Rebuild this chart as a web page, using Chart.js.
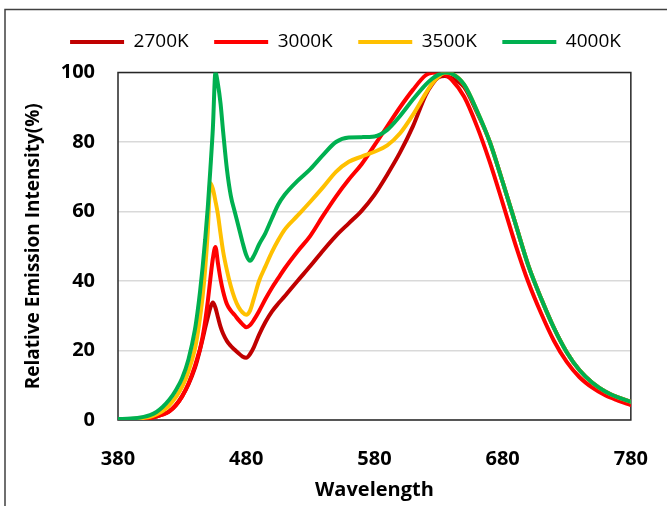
<!DOCTYPE html>
<html>
<head>
<meta charset="utf-8">
<script src="https://cdn.jsdelivr.net/npm/chart.js@4.4.0/dist/chart.umd.min.js"></script>
<style>
  html, body { margin: 0; padding: 0; background: #fff; }
  #wrap { width: 667px; height: 506px; }
</style>
</head>
<body>
<div id="wrap"><canvas id="spectrum" width="667" height="506"></canvas></div>
<script>
// wavelength grid (nm)
const wavelengths = [380, 390, 400, 405, 410, 415, 420, 425, 430, 435,
  440, 442, 444, 446, 448, 450, 452, 454, 456, 458,
  460, 462, 465, 468, 471, 474, 477, 480, 483, 486,
  490, 495, 500, 505, 510, 520, 530, 540, 550, 560,
  570, 580, 590, 600, 610, 620, 625, 630, 635, 640,
  650, 660, 670, 680, 690, 700, 710, 720, 730, 740,
  750, 760, 770, 780];

const seriesNames = ['2700K', '3000K', '3500K', '4000K'];
const seriesColors = ['#C00000', '#FF0000', '#FFC000', '#00B050'];

const cct2700 = [0.1, 0.2, 0.4, 0.6, 1.0, 1.6, 2.5, 4.2, 6.8, 10.3,
  15, 17.5, 20.3, 23.3, 26.5, 29.5, 32.3, 33.8, 32.3, 29.5,
  26.8, 24.8, 22.7, 21.3, 20.2, 19.2, 18.3, 17.9, 19, 21,
  24.5, 28.2, 31.2, 33.5, 35.6, 40, 44.3, 48.8, 53, 56.6,
  60.2, 64.8, 70.6, 77, 84.5, 93.5, 96.6, 98.6, 99, 98.5,
  95.8, 88.5, 80, 68.5, 56.5, 44.5, 35, 26.5, 19.5, 14.3,
  10.7, 8.2, 6.5, 5.2];

const cct3000 = [0.1, 0.2, 0.4, 0.6, 1.0, 1.6, 2.5, 4.2, 6.8, 10.5,
  15.5, 18, 20.5, 24, 28.5, 34, 40.5, 46.5, 49.8, 45,
  40.5, 37, 33.3, 31.5, 30.2, 28.8, 27.6, 26.7, 27.3, 28.8,
  31.3, 34.8, 38, 40.8, 43.6, 48.5, 53, 58.8, 64.3, 69.2,
  73.6, 79, 84.5, 90, 95, 99.2, 99.9, 100, 99.4, 98,
  93, 84.5, 74.2, 62.5, 50.5, 39.7, 30.7, 22.8, 16.7, 12.3,
  9.3, 7.1, 5.6, 4.3];

const cct3500 = [0.2, 0.3, 0.6, 0.9, 1.6, 2.6, 4.2, 6.5, 9.5, 14,
  20.5, 24.5, 29.5, 35.5, 43.5, 54, 68.2, 66.5, 63, 59,
  53.5, 48.5, 43, 38.5, 35, 32.5, 31, 30.3, 31.5, 35,
  40, 44.2, 48.3, 51.8, 54.8, 58.8, 62.8, 67, 71.4, 74.3,
  75.8, 77.2, 79, 82.5, 87.8, 94, 96.8, 98.8, 99.9, 99.7,
  96.5, 89, 80, 68.5, 56.5, 44.5, 35, 26.5, 19.5, 14.3,
  10.7, 8.2, 6.5, 5.2];

const cct4000 = [0.3, 0.4, 0.9, 1.4, 2.3, 3.8, 5.8, 8.5, 12, 17.5,
  26, 31, 37, 44, 52, 61, 72, 84, 100, 96.5,
  91, 83, 72, 64.5, 60, 55.7, 51.3, 47.5, 45.8, 47.3,
  50.5, 53.8, 58, 62, 64.8, 68.8, 72.2, 76.3, 80, 81.3,
  81.4, 81.6, 83.5, 87.5, 92.2, 96.5, 98.2, 99.4, 100, 99.7,
  96.5, 89, 80, 68.5, 56.5, 44.5, 35, 26.5, 19.5, 14.3,
  10.7, 8.2, 6.5, 5.2];

const seriesValues = [cct2700, cct3000, cct3500, cct4000];

const xTicks = { min: 380, max: 780, step: 100 };
const yTicks = { min: 0, max: 100, step: 20 };

const FONT = "'Open Sans', 'Noto Sans', sans-serif";

// outer frame of the figure + plot box
const framePlugin = {
  id: 'frame',
  beforeDraw(chart) {
    const ctx = chart.ctx;
    ctx.save();
    ctx.fillStyle = '#fff';
    ctx.fillRect(0, 0, chart.width, chart.height);
    ctx.strokeStyle = '#404040';
    ctx.lineWidth = 1.5;
    ctx.beginPath();
    ctx.moveTo(5, chart.height);
    ctx.lineTo(5, 9.5);
    ctx.lineTo(chart.width, 9.5);
    ctx.stroke();
    ctx.restore();
  },
  beforeDatasetsDraw(chart) {
    const a = chart.chartArea;
    const ctx = chart.ctx;
    ctx.save();
    ctx.strokeStyle = '#262626';
    ctx.lineWidth = 1.5;
    ctx.strokeRect(a.left, a.top, a.right - a.left, a.bottom - a.top);
    ctx.restore();
  }
};

// nudge the legend to where Excel put it
const legendShift = {
  id: 'legendShift',
  afterLayout(chart, args, opts) {
    const lg = chart.legend;
    lg.left += opts.dx; lg.right += opts.dx;
    lg.top += opts.dy; lg.bottom += opts.dy;
  }
};

new Chart(document.getElementById('spectrum'), {
  type: 'line',
  data: {
    datasets: seriesNames.map((name, i) => ({
      label: name,
      data: wavelengths.map((w, j) => ({ x: w, y: seriesValues[i][j] })),
      borderColor: seriesColors[i],
      backgroundColor: seriesColors[i],
      borderWidth: 4,
      pointRadius: 0,
      cubicInterpolationMode: 'monotone',
      borderCapStyle: 'round',
      borderJoinStyle: 'round',
      yAxisID: 'y',
      order: seriesNames.length - i
    }))
  },
  options: {
    responsive: false,
    animation: false,
    devicePixelRatio: 1,
    layout: { padding: { left: 18, right: 0, top: 18, bottom: 0 } },
    plugins: {
      tooltip: { enabled: false },
      legendShift: { dx: 3, dy: -11 },
      legend: {
        position: 'top',
        labels: {
          usePointStyle: true,
          pointStyle: 'line',
          pointStyleWidth: 54,
          padding: 25.5,
          color: '#000',
          font: { family: FONT, size: 19 },
          sort: (a, b) => a.datasetIndex - b.datasetIndex
        }
      }
    },
    scales: {
      x: {
        type: 'linear',
        min: xTicks.min,
        max: xTicks.max,
        afterFit: s => { s.height = 86; },
        ticks: {
          stepSize: xTicks.step,
          padding: 19,
          color: '#000',
          font: { family: FONT, size: 20, weight: 'bold' }
        },
        grid: { display: false },
        border: { display: false },
        title: {
          display: true,
          text: 'Wavelength',
          color: '#000',
          font: { family: FONT, size: 20, weight: 'bold' }
        }
      },
      y: {
        min: yTicks.min,
        max: yTicks.max,
        afterFit: s => { s.width = 100; },
        ticks: {
          stepSize: yTicks.step,
          padding: 23,
          color: '#000',
          font: { family: FONT, size: 20, weight: 'bold' }
        },
        grid: { color: '#d9d9d9', lineWidth: 1.5, drawTicks: false },
        border: { display: false },
        title: {
          display: true,
          text: 'Relative Emission Intensity(%)',
          color: '#000',
          font: { family: FONT, size: 19, weight: 'bold' }
        }
      },
      // empty right-hand margin (keeps the plot box at the reference width)
      yRight: {
        position: 'right',
        min: 0,
        max: 100,
        afterFit: s => { s.width = 36; },
        ticks: { display: false },
        grid: { display: false, drawTicks: false },
        border: { display: false }
      }
    }
  },
  plugins: [framePlugin, legendShift]
});
</script>
</body>
</html>
